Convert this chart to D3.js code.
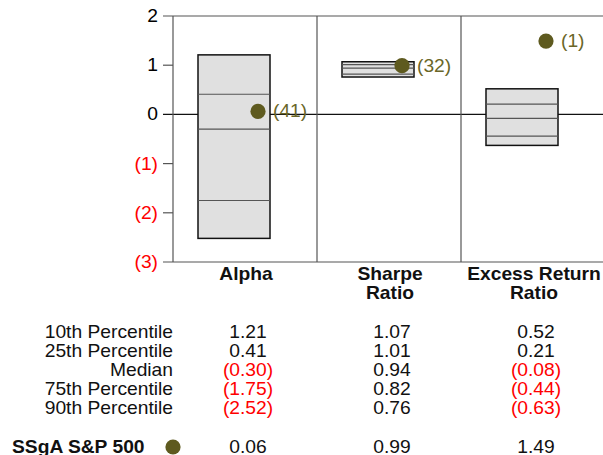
<!DOCTYPE html>
<html>
<head>
<meta charset="utf-8">
<script src="https://cdn.jsdelivr.net/npm/d3@7"></script>
<style>
  body { margin: 0; background: #fff; }
  svg { display: block; font-family: "Liberation Sans", Arial, sans-serif; }
</style>
</head>
<body>
<div id="chart"></div>
<script>
// chart values
var categories = ["Alpha", "Sharpe Ratio", "Excess Return Ratio"];
var catLines = [["Alpha"], ["Sharpe", "Ratio"], ["Excess Return", "Ratio"]];
var p10 = [1.21, 1.07, 0.52];
var p25 = [0.41, 1.01, 0.21];
var median = [-0.30, 0.94, -0.08];
var p75 = [-1.75, 0.82, -0.44];
var p90 = [-2.52, 0.76, -0.63];
var fund = [0.06, 0.99, 1.49];
var ranks = [41, 32, 1];
var rowLabels = ["10th Percentile", "25th Percentile", "Median", "75th Percentile", "90th Percentile"];
var yTicks = [2, 1, 0, -1, -2, -3];
var fundName = "SSgA S&P 500";

var W = 603, H = 455;
var dotColor = "#5e5a1f", labelColor = "#6a6628", red = "#ff0000";
var sx = 1.1; // text in the picture is a bit wide

var svg = d3.select("#chart").append("svg")
  .attr("width", W).attr("height", H);

var y = d3.scaleLinear().domain([-3, 2]).range([262, 16]);
var x = d3.scaleBand().domain(categories).range([173, 605]);
var bw = x.bandwidth();

function fmt(v, n) {
  var s = Math.abs(v).toFixed(n);
  return v < 0 ? "(" + s + ")" : s;
}

// text helper, stretched horizontally
function txt(px, py, s, anchor, color, bold) {
  return svg.append("text")
    .attr("transform", "translate(" + px + "," + py + ") scale(" + sx + ",1)")
    .attr("text-anchor", anchor)
    .attr("fill", color || "#000")
    .attr("font-size", 17.5)
    .attr("font-weight", bold ? "bold" : "normal")
    .text(s);
}

// y axis ticks and labels
yTicks.forEach(function(t) {
  var full = (t === 2 || t === 0 || t === -3);
  svg.append("line")
    .attr("x1", 163).attr("x2", full ? W : 173)
    .attr("y1", y(t)).attr("y2", y(t))
    .attr("stroke", t === 0 ? "#111" : "#555")
    .attr("stroke-width", 1.2);
  txt(158, y(t) + 6, t < 0 ? "(" + (-t) + ")" : String(t), "end", t < 0 ? red : "#000");
});

// axis line and column dividers
svg.append("line").attr("x1", 173).attr("x2", 173)
  .attr("y1", y(2)).attr("y2", y(-3)).attr("stroke", "#555").attr("stroke-width", 1.2);
categories.slice(1).forEach(function(c) {
  svg.append("line").attr("x1", x(c)).attr("x2", x(c))
    .attr("y1", y(2)).attr("y2", y(-3)).attr("stroke", "#555").attr("stroke-width", 1.2);
});

// boxes
categories.forEach(function(c, i) {
  var cx = x(c) + bw / 2;
  var bx0 = cx - 47, bx1 = cx + 25;
  svg.append("rect")
    .attr("x", bx0).attr("y", y(p10[i]))
    .attr("width", bx1 - bx0).attr("height", y(p90[i]) - y(p10[i]))
    .attr("fill", "#e0e0e0").attr("stroke", "#111").attr("stroke-width", 1.5);
  [p25[i], median[i], p75[i]].forEach(function(v) {
    svg.append("line").attr("x1", bx0).attr("x2", bx1)
      .attr("y1", y(v)).attr("y2", y(v))
      .attr("stroke", "#555").attr("stroke-width", 1.2);
  });
  svg.append("circle")
    .attr("cx", cx + 13).attr("cy", y(fund[i])).attr("r", 7.6)
    .attr("fill", dotColor);
  txt(cx + 28, y(fund[i]) + 6, "(" + ranks[i] + ")", "start", labelColor);

  // category label
  catLines[i].forEach(function(l, k) {
    txt(cx + 1, 280 + k * 19, l, "middle", "#111", true);
  });
});

// table
rowLabels.forEach(function(r, j) {
  var by = 338 + j * 19;
  txt(173, by, r, "end", "#111");
  var vals = [p10, p25, median, p75, p90][j];
  categories.forEach(function(c, i) {
    var cx = x(c) + bw / 2;
    txt(cx + 3, by, fmt(vals[i], 2), "middle", vals[i] < 0 ? red : "#111");
  });
});

// fund row
txt(12, 453, fundName, "start", "#111", true);
svg.append("circle").attr("cx", 173).attr("cy", 447).attr("r", 7.6).attr("fill", dotColor);
categories.forEach(function(c, i) {
  var cx = x(c) + bw / 2;
  txt(cx + 3, 453, fmt(fund[i], 2), "middle", fund[i] < 0 ? red : "#111");
});
</script>
</body>
</html>
